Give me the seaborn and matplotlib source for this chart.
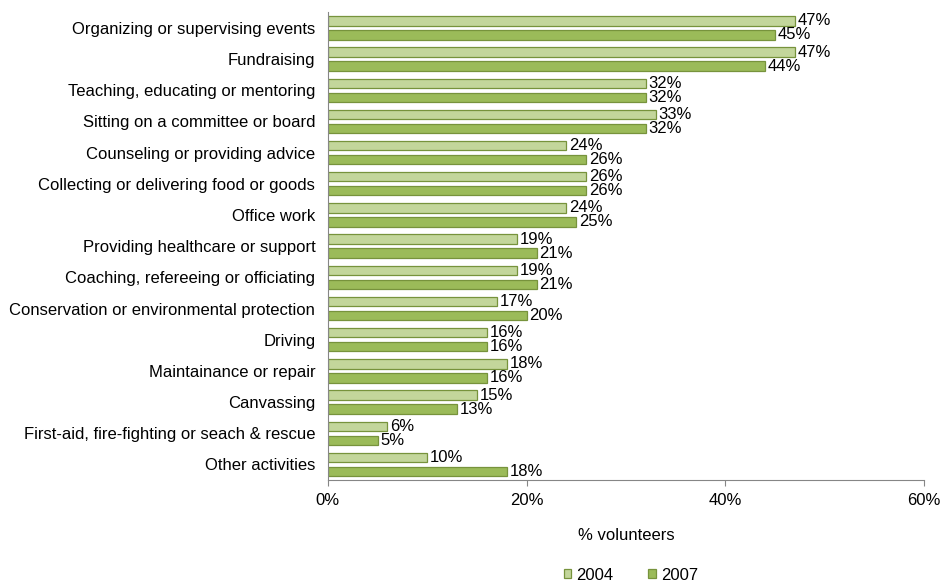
"""Volunteer activities by year, horizontal grouped bar chart."""

import matplotlib
matplotlib.use("Agg")
import matplotlib.pyplot as plt
import pandas as pd
import seaborn as sns
from matplotlib.ticker import PercentFormatter

activities = [
    "Organizing or supervising events",
    "Fundraising",
    "Teaching, educating or mentoring",
    "Sitting on a committee or board",
    "Counseling or providing advice",
    "Collecting or delivering food or goods",
    "Office work",
    "Providing healthcare or support",
    "Coaching, refereeing or officiating",
    "Conservation or environmental protection",
    "Driving",
    "Maintainance or repair",
    "Canvassing",
    "First-aid, fire-fighting or seach & rescue",
    "Other activities",
]
years = ["2004", "2007"]
pct_2004 = [47, 47, 32, 33, 24, 26, 24, 19, 19, 17, 16, 18, 15, 6, 10]
pct_2007 = [45, 44, 32, 32, 26, 26, 25, 21, 21, 20, 16, 16, 13, 5, 18]

df = pd.DataFrame({
    "activity": activities * 2,
    "year": [years[0]] * len(activities) + [years[1]] * len(activities),
    "pct": pct_2004 + pct_2007,
})

FS = 12

sns.set_theme(style="white")
plt.rcParams["font.family"] = ["Liberation Sans", "DejaVu Sans"]
plt.rcParams["font.size"] = FS
plt.rcParams["text.color"] = "black"

fig, ax = plt.subplots(figsize=(9.42, 5.84), dpi=100)
fig.subplots_adjust(left=0.348, right=0.981, top=0.979, bottom=0.178)

palette = {"2004": "#C3D69B", "2007": "#9BBB59"}
sns.barplot(
    data=df, y="activity", x="pct", hue="year", orient="h",
    palette=palette, width=0.9, gap=0.333, edgecolor="#77933C",
    linewidth=0.9, saturation=1, ax=ax,
)

for container in ax.containers:
    ax.bar_label(container, fmt="%d%%", padding=2, fontsize=FS,
                 color="black")

ax.set_xlim(0, 60)
ax.set_xticks([0, 20, 40, 60])
ax.xaxis.set_major_formatter(PercentFormatter(decimals=0))
ax.set_ylim(len(activities) - 0.5, -0.5)
ax.set_xlabel("% volunteers", fontsize=FS, labelpad=15, color="black")
ax.set_ylabel("")
ax.tick_params(axis="y", length=0, pad=9, labelsize=FS, colors="black")
ax.tick_params(axis="x", length=4, width=0.8, direction="out", bottom=True,
               labelsize=FS, labelcolor="black", color="#868686", pad=5)

for side in ["top", "right"]:
    ax.spines[side].set_visible(False)
for side in ["left", "bottom"]:
    ax.spines[side].set_color("#868686")
    ax.spines[side].set_linewidth(0.8)

ax.legend(
    loc="center", bbox_to_anchor=(0.508, -0.203), ncol=2, frameon=False,
    fontsize=FS, handlelength=0.45, handleheight=0.45, handletextpad=0.3,
    columnspacing=2.1, labelcolor="black",
)

plt.savefig("out.png", dpi=100)
